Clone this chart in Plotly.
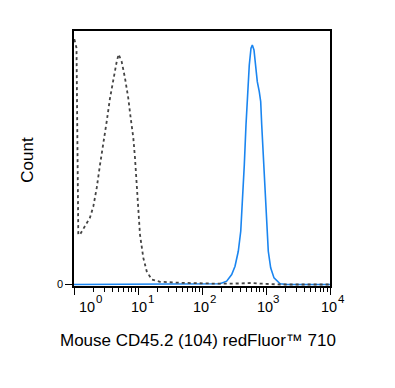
import math
import plotly.graph_objects as go

# Unstained / isotype control (dotted gray)
ctrl_x = [1.0, 1.018, 1.094, 1.114, 1.167, 1.242, 1.486, 1.778, 2.005, 2.265, 2.547, 2.871,
          3.243, 3.652, 4.111, 4.645, 4.989, 5.559, 6.266, 7.047, 7.691, 8.453, 8.974,
          9.55, 10.12, 10.74, 12.11, 13.68, 16.37, 22.08, 45.29, 93.3, 190.5, 389,
          602.6, 871, 1660, 10000]
ctrl_y = [96.5, 96.5, 93.3, 65.0, 19.7, 19.7, 23.0, 26.4, 30.8, 38.1, 47.2, 55.1,
          64.3, 73.5, 81.4, 87.9, 90.8, 87.9, 81.4, 73.5, 65.6, 57.8, 49.9,
          39.4, 28.9, 19.7, 10.5, 5.2, 2.0, 1.06, 0.67, 0.4, 0.3, 0.4,
          0.6, 0.3, 0.0, 0.0]

# Stained sample (solid blue)
stain_x = [1.0, 191, 243, 291, 328, 369, 403, 433, 458, 487, 518, 548, 583, 611, 649, 690,
           731, 785, 826, 857, 908, 964, 1026, 1086, 1183, 1334, 1660, 2089, 10000]
stain_y = [0.0, 0.28, 1.3, 3.9, 7.2, 13.1, 21.0, 34.1, 47.2, 63.0, 76.1, 86.6, 93.2, 94.5,
           92.5, 86.6, 80.0, 76.1, 72.2, 63.0, 49.9, 36.7, 23.6, 13.1, 6.6, 2.6, 0.28,
           0.0, 0.0]

major_ticks = [1, 10, 100, 1000, 10000]
tick_base = "10"
tick_exponents = ["0", "1", "2", "3", "4"]
label_shift = [13, 1, -1, -1.5, -1]
minor_ticks = [m * 10 ** k for k in range(4) for m in range(2, 10)]

x_title = "Mouse CD45.2 (104) redFluor™ 710"
y_title = "Count"

FONT = "Arial, Liberation Sans, sans-serif"

# page body has an 8px default margin; compensate so the plot area sits at 74..330 x 31..286.5
OFF = 8
L, R, T, B = 74 - OFF, 65 + OFF, 31 - OFF, 101.5 + OFF
W, H = 395, 388
pw, ph = W - L - R, H - T - B


def px_x(px):
    return (px - OFF - L) / pw


def px_y(py):
    return (H - B - (py - OFF)) / ph


fig = go.Figure()
fig.add_trace(go.Scatter(x=stain_x, y=stain_y, mode="lines",
                         line=dict(color="#1a85f0", width=1.6), hoverinfo="skip"))
fig.add_trace(go.Scatter(x=ctrl_x, y=ctrl_y, mode="lines",
                         line=dict(color="#444444", width=1.8, dash="dot"), hoverinfo="skip"))

fig.update_layout(
    width=W, height=H,
    margin=dict(l=L, r=R, t=T, b=B),
    paper_bgcolor="white", plot_bgcolor="white",
    showlegend=False,
    font=dict(family=FONT, color="black"),
)
fig.update_xaxes(
    type="log", range=[0, 4],
    showgrid=False, zeroline=False,
    showline=True, linecolor="black", linewidth=1.5, mirror=True,
    ticks="outside", ticklen=7, tickwidth=1.2, tickcolor="black",
    tickvals=major_ticks, showticklabels=False,
    minor=dict(tickvals=minor_ticks, ticks="outside", ticklen=4, tickwidth=1,
               tickcolor="black", showgrid=False),
)
fig.update_yaxes(
    range=[-0.6, 100],
    showgrid=False, zeroline=False,
    showline=True, linecolor="black", linewidth=1.5, mirror=True,
    ticks="outside", ticklen=7, tickwidth=1.2, tickcolor="black",
    tickvals=[0], ticktext=["0"], tickfont=dict(size=11, family=FONT),
)

for v, e, s in zip(major_ticks, tick_exponents, label_shift):
    fig.add_annotation(x=math.log10(v), xref="x", y=px_y(308), yref="paper",
                       text=tick_base, showarrow=False, xanchor="center", yanchor="middle",
                       xshift=s, font=dict(size=14.5, family=FONT))
    fig.add_annotation(x=math.log10(v), xref="x", y=px_y(300), yref="paper",
                       text=e, showarrow=False, xanchor="left", yanchor="middle",
                       xshift=s + 6.5, font=dict(size=11.5, family=FONT))

fig.add_annotation(x=px_x(197.5), xref="paper", y=px_y(341), yref="paper", text=x_title,
                   showarrow=False, xanchor="center", yanchor="middle",
                   font=dict(size=17, family=FONT))
fig.add_annotation(x=px_x(28), xref="paper", y=px_y(160), yref="paper", text=y_title,
                   textangle=-90, showarrow=False, xanchor="center", yanchor="middle",
                   font=dict(size=17, family=FONT))

fig.write_html("out.html")
